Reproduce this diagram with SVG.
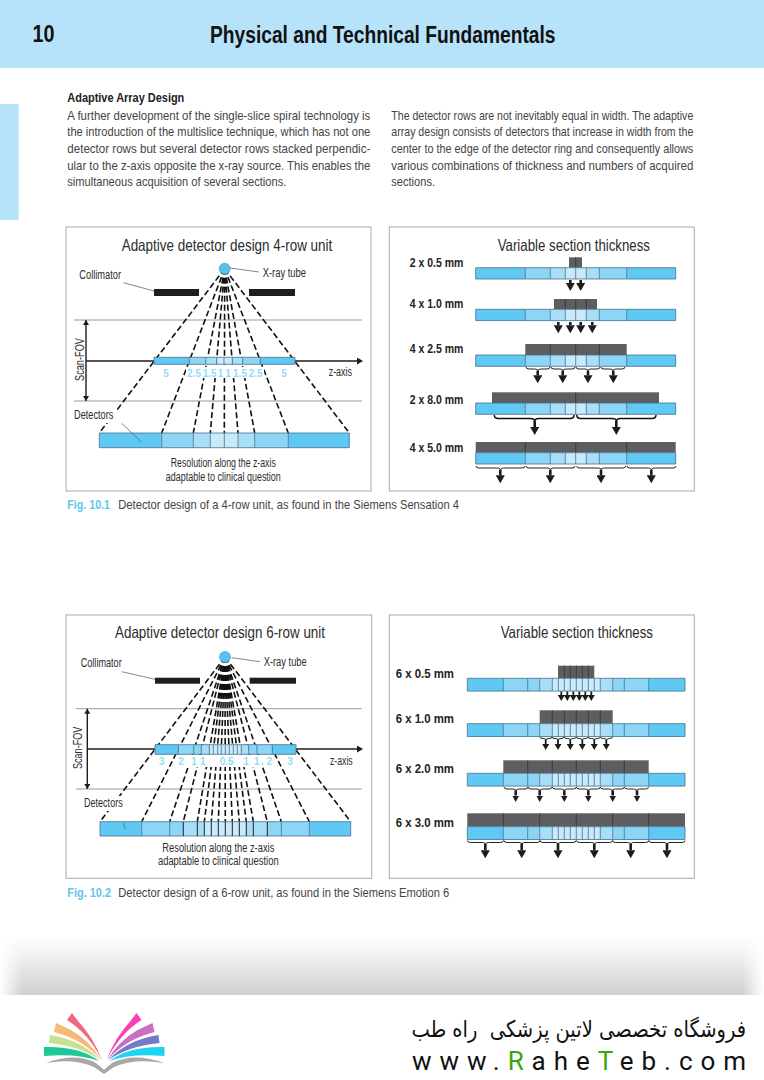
<svg xmlns="http://www.w3.org/2000/svg" width="764" height="1080" viewBox="0 0 764 1080">
<style>
text{font-family:"Liberation Sans",Arial,sans-serif;fill:#2c2c2c}
.body{font-size:12.4px;fill:#444}
.b{font-weight:bold}
.t{font-size:16.5px}
.l{font-size:12.5px}
.mm{font-size:12.5px;font-weight:bold;fill:#222}
.num{font-size:10px;font-weight:bold;fill:#93dcf5}
.cap{font-size:12.6px;fill:#444}
.fig{font-size:12.6px;font-weight:bold;fill:#62c6ea}
.frame{fill:#fff;stroke:#a9a9a9;stroke-width:1}
.gl{stroke:#9a9a9a;stroke-width:1;fill:none}
.ax{stroke:#1c1c1c;stroke-width:1.4;fill:none}
.ld{stroke:#666;stroke-width:.8;fill:none}
.da{stroke:#111;stroke-width:1.6;stroke-dasharray:6 3;fill:none}
.col{fill:#1e1e20}
.tube{fill:#55c3ee;stroke:#4a8aa8;stroke-width:.6}
.c1{fill:#5fc8f3}.c2{fill:#8dd5f6}.c3{fill:#a9def8}.c4{fill:#c8eafb}
.div{stroke:#46708a;stroke-width:.8;fill:none}
.dark{fill:#5e5e62}
.dd{stroke:#333;stroke-width:.8;fill:none}
.arr{stroke:#1c1c1c;stroke-width:2.6;fill:none}
.arrs{stroke:#1c1c1c;stroke-width:1.8;fill:none}
.br{stroke:#222;stroke-width:1;fill:none}
.br2{stroke:#111;stroke-width:1.5;fill:none}
.blue{fill:#b6e3f9}
</style>
<defs>
<marker id="h" markerUnits="userSpaceOnUse" markerWidth="9" markerHeight="9" refX="0" refY="4.5" orient="auto"><path d="M0 0L8 4.5L0 9Z" fill="#1c1c1c"/></marker>
<marker id="m" markerUnits="userSpaceOnUse" markerWidth="8" markerHeight="8" refX="0" refY="3.5" orient="auto"><path d="M0 0L6.5 3.5L0 7Z" fill="#1c1c1c"/></marker>
<marker id="hs" markerUnits="userSpaceOnUse" markerWidth="6" markerHeight="7" refX="0" refY="3.5" orient="auto"><path d="M0 0L6 3.5L0 7Z" fill="#1c1c1c"/></marker>
<marker id="dbl" markerUnits="userSpaceOnUse" markerWidth="6" markerHeight="6" refX="5" refY="3" orient="auto-start-reverse"><path d="M0 0L5 3L0 6Z" fill="#1c1c1c"/></marker>
<linearGradient id="fade" x1="0" y1="0" x2="0" y2="1"><stop offset="0" stop-color="#fff"/><stop offset=".3" stop-color="#f3f3f3"/><stop offset="1" stop-color="#d0d0d0"/></linearGradient>
<linearGradient id="fl" x1="0" y1="0" x2="1" y2="0"><stop offset="0" stop-color="#fff"/><stop offset="1" stop-color="#fff" stop-opacity="0"/></linearGradient>
<linearGradient id="fr" x1="1" y1="0" x2="0" y2="0"><stop offset="0" stop-color="#fff"/><stop offset="1" stop-color="#fff" stop-opacity="0"/></linearGradient>
<g id="s4">
<rect class="c1" x="475.7" width="49.6" height="11.3"/><rect class="c2" x="525.3" width="25" height="11.3"/><rect class="c3" x="550.3" width="15" height="11.3"/><rect class="c4" x="565.3" width="21" height="11.3"/><rect class="c3" x="586.3" width="13" height="11.3"/><rect class="c2" x="599.3" width="27.4" height="11.3"/><rect class="c1" x="626.7" width="49" height="11.3"/>
<path class="div" d="M475.7 0H675.7V11.3H475.7ZM525.3 0V11.3M550.3 0V11.3M565.3 0V11.3M575.7 0V11.3M586.3 0V11.3M599.3 0V11.3M626.7 0V11.3"/>
</g>
<g id="s6">
<rect class="c1" x="467.3" width="36" height="12.8"/><rect class="c2" x="503.3" width="36.4" height="12.8"/><rect class="c3" x="539.7" width="12.6" height="12.8"/><rect class="c4" x="552.3" width="48" height="12.8"/><rect class="c3" x="600.3" width="12.4" height="12.8"/><rect class="c2" x="612.7" width="36" height="12.8"/><rect class="c1" x="648.7" width="36.3" height="12.8"/>
<path class="div" d="M467.3 0H685V12.8H467.3ZM503.3 0V12.8M527.7 0V12.8M539.7 0V12.8M552.3 0V12.8M558.3 0V12.8M564.3 0V12.8M570.3 0V12.8M576.3 0V12.8M582.3 0V12.8M588.3 0V12.8M594.3 0V12.8M600.3 0V12.8M612.7 0V12.8M624.3 0V12.8M648.7 0V12.8"/>
</g>
</defs>
<rect width="764" height="1080" fill="#fff"/>

<g id="page-header">
<rect class="blue" width="764" height="68"/>
<text x="32.5" y="41.7" font-size="23" class="b" style="fill:#111" textLength="22" lengthAdjust="spacingAndGlyphs">10</text>
<text x="210" y="42.7" font-size="23.5" class="b" style="fill:#111" textLength="345.5" lengthAdjust="spacingAndGlyphs">Physical and Technical Fundamentals</text>
</g>
<rect id="side-tab" class="blue" x="0" y="104" width="18.7" height="116"/>

<g id="body-text">
<text class="body b" x="67.3" y="102.3" style="fill:#222" textLength="117" lengthAdjust="spacingAndGlyphs">Adaptive Array Design</text>
<text class="body" x="67.3" y="119.7" textLength="303" lengthAdjust="spacingAndGlyphs">A further development of the single-slice spiral technology is</text>
<text class="body" x="67.3" y="136.3" textLength="303" lengthAdjust="spacingAndGlyphs">the introduction of the multislice technique, which has not one</text>
<text class="body" x="67.3" y="153" textLength="303" lengthAdjust="spacingAndGlyphs">detector rows but several detector rows stacked perpendic-</text>
<text class="body" x="67.3" y="169.7" textLength="303" lengthAdjust="spacingAndGlyphs">ular to the z-axis opposite the x-ray source. This enables the</text>
<text class="body" x="67.3" y="186.3" textLength="219" lengthAdjust="spacingAndGlyphs">simultaneous acquisition of several sections.</text>
<text class="body" x="391.3" y="119.7" textLength="302" lengthAdjust="spacingAndGlyphs">The detector rows are not inevitably equal in width. The adaptive</text>
<text class="body" x="391.3" y="136.3" textLength="302" lengthAdjust="spacingAndGlyphs">array design consists of detectors that increase in width from the</text>
<text class="body" x="391.3" y="153" textLength="302" lengthAdjust="spacingAndGlyphs">center to the edge of the detector ring and consequently allows</text>
<text class="body" x="391.3" y="169.7" textLength="302" lengthAdjust="spacingAndGlyphs">various combinations of thickness and numbers of acquired</text>
<text class="body" x="391.3" y="186.3" textLength="43.7" lengthAdjust="spacingAndGlyphs">sections.</text>
</g>

<!-- Panel 1 -->
<rect id="panel-4row" class="frame" x="66" y="227" width="305" height="264"/>
<text class="t" x="121.7" y="250.7" textLength="210.6" lengthAdjust="spacingAndGlyphs">Adaptive detector design 4-row unit</text>
<g id="connectors-4row">
<path class="gl" d="M74 320H362M74 401H362"/>
<line class="ax" x1="86" y1="320" x2="86" y2="401" marker-start="url(#dbl)" marker-end="url(#dbl)"/>
<line class="ax" x1="86" y1="361" x2="357" y2="361" marker-end="url(#hs)"/>
<path class="ld" d="M123.3 282.7L154 291M230 268L259 272"/>
<path class="da" d="M224.7 268.7L99.3 433M224.7 268.7L161.7 433M224.7 268.7L193.3 433M224.7 268.7L210.3 433M224.7 268.7L224.3 433M224.7 268.7L238 433M224.7 268.7L254.7 433M224.7 268.7L288.3 433M224.7 268.7L349.3 433"/>
</g>
<g id="tube-4row"><circle class="tube" cx="224.7" cy="268.7" r="5.5"/><text class="l" x="262.7" y="277" textLength="43.3" lengthAdjust="spacingAndGlyphs">X-ray tube</text></g>
<g id="collimator-4row"><rect class="col" x="154" y="289" width="45" height="7"/><rect class="col" x="249" y="289" width="46" height="7"/><text class="l" x="79.3" y="279" textLength="41.7" lengthAdjust="spacingAndGlyphs">Collimator</text></g>
<g id="upper-strip-4row">
<rect x="186" y="367" width="78" height="11" fill="#fff"/>
<rect class="c1" x="154" y="357.3" width="35.3" height="7"/><rect class="c2" x="189.3" y="357.3" width="16.4" height="7"/><rect class="c3" x="205.7" y="357.3" width="11" height="7"/><rect class="c4" x="216.7" y="357.3" width="15.6" height="7"/><rect class="c3" x="232.3" y="357.3" width="10.4" height="7"/><rect class="c2" x="242.7" y="357.3" width="17.6" height="7"/><rect class="c1" x="260.3" y="357.3" width="34.7" height="7"/>
<path class="div" d="M154 357.3H295V364.3H154ZM189.3 357.3V364.3M205.7 357.3V364.3M216.7 357.3V364.3M224 357.3V364.3M232.3 357.3V364.3M242.7 357.3V364.3M260.3 357.3V364.3"/>
<text class="num" x="166" y="376.7" text-anchor="middle">5</text><text class="num" x="194" y="376.7" text-anchor="middle">2.5</text><text class="num" x="209.7" y="376.7" text-anchor="middle">1.5</text><text class="num" x="220.5" y="376.7" text-anchor="middle">1</text><text class="num" x="228" y="376.7" text-anchor="middle">1</text><text class="num" x="240" y="376.7" text-anchor="middle">1.5</text><text class="num" x="255.7" y="376.7" text-anchor="middle">2.5</text><text class="num" x="284" y="376.7" text-anchor="middle">5</text>
</g>
<text id="scan-fov-4row" class="l" transform="translate(84 381) rotate(-90)" textLength="43" lengthAdjust="spacingAndGlyphs">Scan-FOV</text>
<text id="zaxis-4row" class="l" x="328.7" y="376" textLength="23.3" lengthAdjust="spacingAndGlyphs">z-axis</text>
<g id="detectors-4row">
<rect x="72" y="408" width="45" height="15" fill="#fff"/>
<text class="l" x="74" y="419.3" textLength="39.3" lengthAdjust="spacingAndGlyphs">Detectors</text>
<rect class="c1" x="99.3" y="433" width="62.4" height="14.7"/><rect class="c2" x="161.7" y="433" width="31.6" height="14.7"/><rect class="c3" x="193.3" y="433" width="17" height="14.7"/><rect class="c4" x="210.3" y="433" width="27.7" height="14.7"/><rect class="c3" x="238" y="433" width="16.7" height="14.7"/><rect class="c2" x="254.7" y="433" width="33.6" height="14.7"/><rect class="c1" x="288.3" y="433" width="61" height="14.7"/>
<path class="div" d="M99.3 433H349.3V447.7H99.3ZM161.7 433V447.7M193.3 433V447.7M210.3 433V447.7M224.3 433V447.7M238 433V447.7M254.7 433V447.7M288.3 433V447.7"/>
<path class="ld" d="M121.7 423.3L141.7 442.3"/>
</g>
<text class="l" x="223.3" y="467.3" text-anchor="middle" textLength="105" lengthAdjust="spacingAndGlyphs">Resolution along the z-axis</text>
<text class="l" x="223.3" y="481" text-anchor="middle" textLength="115" lengthAdjust="spacingAndGlyphs">adaptable to clinical question</text>

<!-- Panel 2 -->
<rect id="panel-var4" class="frame" x="389.3" y="227" width="305" height="264"/>
<text class="t" x="497.7" y="250.7" textLength="152.3" lengthAdjust="spacingAndGlyphs">Variable section thickness</text>
<g id="row-2x05">
<text class="mm" x="409.7" y="267.3" textLength="53.7" lengthAdjust="spacingAndGlyphs">2 x 0.5 mm</text>
<rect class="dark" x="569" y="257.3" width="13" height="10.4"/><path class="dd" d="M575.7 257.3V267.7"/>
<use href="#s4" y="267.7"/>
</g>
<g id="row-4x10">
<text class="mm" x="409.7" y="308.3" textLength="53.7" lengthAdjust="spacingAndGlyphs">4 x 1.0 mm</text>
<rect class="dark" x="554" y="299" width="43" height="10.3"/><path class="dd" d="M565.3 299V309.3M575.7 299V309.3M586.3 299V309.3"/>
<use href="#s4" y="309.3"/>
</g>
<g id="row-4x25">
<text class="mm" x="409.7" y="353.3" textLength="53.7" lengthAdjust="spacingAndGlyphs">4 x 2.5 mm</text>
<rect class="dark" x="525.3" y="344" width="101.4" height="11"/><path class="dd" d="M550.3 344V355M575.7 344V355M599.3 344V355"/>
<use href="#s4" y="355"/>
</g>
<g id="row-2x80">
<text class="mm" x="409.7" y="403.7" textLength="53.7" lengthAdjust="spacingAndGlyphs">2 x 8.0 mm</text>
<rect class="dark" x="492" y="392.3" width="167" height="10.7"/><path class="dd" d="M575.7 392.3V403"/>
<use href="#s4" y="403"/>
</g>
<g id="row-4x50">
<text class="mm" x="409.7" y="452.3" textLength="53.7" lengthAdjust="spacingAndGlyphs">4 x 5.0 mm</text>
<rect class="dark" x="475.7" y="442" width="200" height="10.7"/><path class="dd" d="M525.3 442V452.7M575.7 442V452.7M626.7 442V452.7"/>
<use href="#s4" y="452.7"/>
</g>
<g id="connectors-var4">
<g class="arr">
<line x1="570.3" y1="280" x2="570.3" y2="283" marker-end="url(#h)"/><line x1="580.7" y1="280" x2="580.7" y2="283" marker-end="url(#h)"/>
<line x1="558.3" y1="322" x2="558.3" y2="325.3" marker-end="url(#h)"/><line x1="570.3" y1="322" x2="570.3" y2="325.3" marker-end="url(#h)"/><line x1="580.7" y1="322" x2="580.7" y2="325.3" marker-end="url(#h)"/><line x1="592.3" y1="322" x2="592.3" y2="325.3" marker-end="url(#h)"/>
<line x1="537.7" y1="371" x2="537.7" y2="375.3" marker-end="url(#h)"/><line x1="562.7" y1="371" x2="562.7" y2="375.3" marker-end="url(#h)"/><line x1="588" y1="371" x2="588" y2="375.3" marker-end="url(#h)"/><line x1="613.3" y1="371" x2="613.3" y2="375.3" marker-end="url(#h)"/>
<line x1="534.7" y1="421" x2="534.7" y2="427" marker-end="url(#h)"/><line x1="616.3" y1="421" x2="616.3" y2="427" marker-end="url(#h)"/>
<line x1="500.3" y1="470" x2="500.3" y2="475.3" marker-end="url(#h)"/><line x1="550.3" y1="470" x2="550.3" y2="475.3" marker-end="url(#h)"/><line x1="601" y1="470" x2="601" y2="475.3" marker-end="url(#h)"/><line x1="651.3" y1="470" x2="651.3" y2="475.3" marker-end="url(#h)"/>
</g>
<path class="br" d="M526 367q0 2 3 2h6q3 0 3 2q0-2 3-2h6q3 0 3-2M551 367q0 2 3 2h6q3 0 3 2q0-2 3-2h6q3 0 3-2M576 367q0 2 3 2h6q3 0 3 2q0-2 3-2h6q3 0 3-2M601 367q0 2 3 2h6q3 0 3 2q0-2 3-2h6q3 0 3-2"/>
<path class="br2" d="M494.3 415q0 3.5 4 3.5h32.4q4 0 4 3q0-3 4-3h31.4q4 0 4-3.5M576.7 415q0 3.5 4 3.5h31.7q4 0 4 3q0-3 4-3h31.6q4 0 4-3.5"/>
<path class="br" d="M476 466q0 2 3 2h18.5q3 0 3 2q0-2 3-2h18.5q3 0 3-2M526 466q0 2 3 2h18.5q3 0 3 2q0-2 3-2h18.5q3 0 3-2M576.7 466q0 2 3 2h18.5q3 0 3 2q0-2 3-2h18.5q3 0 3-2M627 466q0 2 3 2h18.5q3 0 3 2q0-2 3-2h18.5q3 0 3-2"/>
</g>
<g id="caption-1">
<text class="fig" x="67.3" y="509.3" textLength="42.7" lengthAdjust="spacingAndGlyphs">Fig. 10.1</text>
<text class="cap" x="118.3" y="509.3" textLength="340.7" lengthAdjust="spacingAndGlyphs">Detector design of a 4-row unit, as found in the Siemens Sensation 4</text>
</g>

<!-- Panel 3 -->
<rect id="panel-6row" class="frame" x="66" y="615" width="305.7" height="263.3"/>
<text class="t" x="115" y="638" textLength="210" lengthAdjust="spacingAndGlyphs">Adaptive detector design 6-row unit</text>
<g id="connectors-6row">
<path class="gl" d="M75.7 708.7H361.7M75.7 789H361.7"/>
<line class="ax" x1="87.3" y1="708.7" x2="87.3" y2="789" marker-start="url(#dbl)" marker-end="url(#dbl)"/>
<line class="ax" x1="87.3" y1="749" x2="357" y2="749" marker-end="url(#hs)"/>
<path class="ld" d="M121.7 671.7L155 679.3M231.7 657.7L260 661.7"/>
<path class="da" d="M225 657L100 821.7M225 657L141.7 821.7M225 657L169.7 821.7M225 657L183.3 821.7M225 657L197.3 821.7M225 657L204.3 821.7M225 657L211.3 821.7M225 657L218.3 821.7M225 657L225.3 821.7M225 657L232.3 821.7M225 657L239.3 821.7M225 657L246.3 821.7M225 657L253.3 821.7M225 657L267.3 821.7M225 657L281.3 821.7M225 657L309.3 821.7M225 657L350.7 821.7"/>
</g>
<g id="tube-6row"><circle class="tube" cx="225" cy="657" r="5.5"/><text class="l" x="263.7" y="666" textLength="43" lengthAdjust="spacingAndGlyphs">X-ray tube</text></g>
<g id="collimator-6row"><rect class="col" x="155" y="677.7" width="45" height="6"/><rect class="col" x="249.7" y="677.7" width="46.3" height="6"/><text class="l" x="80.7" y="667.3" textLength="41" lengthAdjust="spacingAndGlyphs">Collimator</text></g>
<g id="upper-strip-6row">
<rect x="188" y="755" width="74" height="12" fill="#fff"/>
<rect class="c1" x="155" y="744.7" width="23.3" height="9.6"/><rect class="c2" x="178.3" y="744.7" width="23" height="9.6"/><rect class="c3" x="201.3" y="744.7" width="8" height="9.6"/><rect class="c4" x="209.3" y="744.7" width="32" height="9.6"/><rect class="c3" x="241.3" y="744.7" width="7.4" height="9.6"/><rect class="c2" x="248.7" y="744.7" width="23.6" height="9.6"/><rect class="c1" x="272.3" y="744.7" width="23.7" height="9.6"/>
<path class="div" d="M155 744.7H296V754.3H155ZM178.3 744.7V754.3M193.7 744.7V754.3M201.3 744.7V754.3M209.3 744.7V754.3M213.3 744.7V754.3M217.7 744.7V754.3M221.3 744.7V754.3M225.3 744.7V754.3M229.3 744.7V754.3M233.3 744.7V754.3M237.3 744.7V754.3M241.3 744.7V754.3M248.7 744.7V754.3M257 744.7V754.3M272.3 744.7V754.3"/>
<text class="num" x="161.7" y="765.3" text-anchor="middle">3</text><text class="num" x="181" y="765.3" text-anchor="middle">2</text><text class="num" x="194" y="765.3" text-anchor="middle">1</text><text class="num" x="202.7" y="765.3" text-anchor="middle">1</text><text class="num" x="226.7" y="765.3" text-anchor="middle">0.5</text><text class="num" x="246" y="765.3" text-anchor="middle">1</text><text class="num" x="256.7" y="765.3" text-anchor="middle">1</text><text class="num" x="269.3" y="765.3" text-anchor="middle">2</text><text class="num" x="290" y="765.3" text-anchor="middle">3</text>
</g>
<text id="scan-fov-6row" class="l" transform="translate(82 769) rotate(-90)" textLength="42.3" lengthAdjust="spacingAndGlyphs">Scan-FOV</text>
<text id="zaxis-6row" class="l" x="330" y="765" textLength="22.7" lengthAdjust="spacingAndGlyphs">z-axis</text>
<g id="detectors-6row">
<rect x="82" y="796" width="45" height="15" fill="#fff"/>
<text class="l" x="84" y="807.3" textLength="38.7" lengthAdjust="spacingAndGlyphs">Detectors</text>
<rect class="c1" x="100" y="821.7" width="41.7" height="14.3"/><rect class="c2" x="141.7" y="821.7" width="41.6" height="14.3"/><rect class="c3" x="183.3" y="821.7" width="21" height="14.3"/><rect class="c4" x="204.3" y="821.7" width="42" height="14.3"/><rect class="c3" x="246.3" y="821.7" width="21" height="14.3"/><rect class="c2" x="267.3" y="821.7" width="42" height="14.3"/><rect class="c1" x="309.3" y="821.7" width="41.4" height="14.3"/>
<path class="div" d="M100 821.7H350.7V836H100ZM141.7 821.7V836M169.7 821.7V836M281.3 821.7V836M309.3 821.7V836"/>
<path stroke="#222" stroke-width="1" fill="none" d="M183.3 821.7V836M197.3 821.7V836M204.3 821.7V836M211.3 821.7V836M218.3 821.7V836M225.3 821.7V836M232.3 821.7V836M239.3 821.7V836M246.3 821.7V836M253.3 821.7V836M267.3 821.7V836"/>
<path class="ld" d="M123.5 823L125 829"/>
</g>
<text class="l" x="218.3" y="852.3" text-anchor="middle" textLength="112" lengthAdjust="spacingAndGlyphs">Resolution along the z-axis</text>
<text class="l" x="218.3" y="865" text-anchor="middle" textLength="120.7" lengthAdjust="spacingAndGlyphs">adaptable to clinical question</text>

<!-- Panel 4 -->
<rect id="panel-var6" class="frame" x="389.3" y="615" width="305" height="263.3"/>
<text class="t" x="500.7" y="638" textLength="152.3" lengthAdjust="spacingAndGlyphs">Variable section thickness</text>
<g id="row-6x05">
<text class="mm" x="395.7" y="678.3" textLength="58.3" lengthAdjust="spacingAndGlyphs">6 x 0.5 mm</text>
<rect class="dark" x="558" y="665.7" width="36.3" height="12.6"/><path class="dd" d="M564.3 665.7V678.3M570.3 665.7V678.3M576.3 665.7V678.3M582.3 665.7V678.3M588.3 665.7V678.3"/>
<use href="#s6" y="678.3"/>
</g>
<g id="row-6x10">
<text class="mm" x="395.7" y="723.3" textLength="58.3" lengthAdjust="spacingAndGlyphs">6 x 1.0 mm</text>
<rect class="dark" x="539.7" y="710.3" width="73" height="13.4"/><path class="dd" d="M552.3 710.3V723.7M564.3 710.3V723.7M576.3 710.3V723.7M588.3 710.3V723.7M600.3 710.3V723.7"/>
<use href="#s6" y="723.7"/>
</g>
<g id="row-6x20">
<text class="mm" x="395.7" y="773.3" textLength="58.3" lengthAdjust="spacingAndGlyphs">6 x 2.0 mm</text>
<rect class="dark" x="503.3" y="760.3" width="145.4" height="13"/><path class="dd" d="M527.7 760.3V773.3M552.3 760.3V773.3M576.3 760.3V773.3M600.3 760.3V773.3M624.3 760.3V773.3"/>
<use href="#s6" y="773.3"/>
</g>
<g id="row-6x30">
<text class="mm" x="395.7" y="826.7" textLength="58.3" lengthAdjust="spacingAndGlyphs">6 x 3.0 mm</text>
<rect class="dark" x="467.3" y="813.3" width="217.7" height="13.4"/><path class="dd" d="M503.3 813.3V826.7M539.7 813.3V826.7M576.3 813.3V826.7M612.7 813.3V826.7M648.7 813.3V826.7"/>
<use href="#s6" y="826.7"/>
</g>
<g id="connectors-var6">
<g class="arrs">
<line x1="561.3" y1="691.5" x2="561.3" y2="695" marker-end="url(#hs)"/><line x1="567.3" y1="691.5" x2="567.3" y2="695" marker-end="url(#hs)"/><line x1="573.3" y1="691.5" x2="573.3" y2="695" marker-end="url(#hs)"/><line x1="579.3" y1="691.5" x2="579.3" y2="695" marker-end="url(#hs)"/><line x1="585.3" y1="691.5" x2="585.3" y2="695" marker-end="url(#hs)"/><line x1="591.3" y1="691.5" x2="591.3" y2="695" marker-end="url(#hs)"/>
<line x1="545.7" y1="740" x2="545.7" y2="744" marker-end="url(#hs)"/><line x1="558" y1="740" x2="558" y2="744" marker-end="url(#hs)"/><line x1="570.3" y1="740" x2="570.3" y2="744" marker-end="url(#hs)"/><line x1="582.3" y1="740" x2="582.3" y2="744" marker-end="url(#hs)"/><line x1="594.3" y1="740" x2="594.3" y2="744" marker-end="url(#hs)"/><line x1="606.3" y1="740" x2="606.3" y2="744" marker-end="url(#hs)"/>
</g>
<g class="arr">
<line x1="515.7" y1="790.5" x2="515.7" y2="795.5" marker-end="url(#m)"/><line x1="539.7" y1="790.5" x2="539.7" y2="795.5" marker-end="url(#m)"/><line x1="564.3" y1="790.5" x2="564.3" y2="795.5" marker-end="url(#m)"/><line x1="588.3" y1="790.5" x2="588.3" y2="795.5" marker-end="url(#m)"/><line x1="612.7" y1="790.5" x2="612.7" y2="795.5" marker-end="url(#m)"/><line x1="637" y1="790.5" x2="637" y2="795.5" marker-end="url(#m)"/>
<line x1="485.3" y1="844" x2="485.3" y2="850.3" marker-end="url(#h)"/><line x1="521.7" y1="844" x2="521.7" y2="850.3" marker-end="url(#h)"/><line x1="558" y1="844" x2="558" y2="850.3" marker-end="url(#h)"/><line x1="594.3" y1="844" x2="594.3" y2="850.3" marker-end="url(#h)"/><line x1="630.7" y1="844" x2="630.7" y2="850.3" marker-end="url(#h)"/><line x1="667" y1="844" x2="667" y2="850.3" marker-end="url(#h)"/>
</g>
<path class="br" d="M540 737q0 1.5 3 1.5q3 0 3 1.5q0-1.5 3-1.5q3 0 3-1.5M552 737q0 1.5 3 1.5q3 0 3 1.5q0-1.5 3-1.5q3 0 3-1.5M564.3 737q0 1.5 3 1.5q3 0 3 1.5q0-1.5 3-1.5q3 0 3-1.5M576.3 737q0 1.5 3 1.5q3 0 3 1.5q0-1.5 3-1.5q3 0 3-1.5M588.3 737q0 1.5 3 1.5q3 0 3 1.5q0-1.5 3-1.5q3 0 3-1.5M600.5 737q0 1.5 3 1.5q3 0 3 1.5q0-1.5 3-1.5q3 0 3-1.5"/>
<path class="br" d="M504 787q0 2 3 2h6q3 0 3 2q0-2 3-2h6q3 0 3-2M528 787q0 2 3 2h6q3 0 3 2q0-2 3-2h6q3 0 3-2M552.3 787q0 2 3 2h6q3 0 3 2q0-2 3-2h6q3 0 3-2M576.3 787q0 2 3 2h6q3 0 3 2q0-2 3-2h6q3 0 3-2M600.3 787q0 2 3 2h6q3 0 3 2q0-2 3-2h6q3 0 3-2M624.5 787q0 2 3 2h6q3 0 3 2q0-2 3-2h6q3 0 3-2"/>
<path class="br" d="M467.5 840.5q0 2 3 2h12q3 0 3 2q0-2 3-2h12q3 0 3-2M504 840.5q0 2 3 2h12q3 0 3 2q0-2 3-2h12q3 0 3-2M540 840.5q0 2 3 2h12q3 0 3 2q0-2 3-2h12q3 0 3-2M576.5 840.5q0 2 3 2h12q3 0 3 2q0-2 3-2h12q3 0 3-2M612.7 840.5q0 2 3 2h12q3 0 3 2q0-2 3-2h12q3 0 3-2M649 840.5q0 2 3 2h12q3 0 3 2q0-2 3-2h12q3 0 3-2"/>
</g>
<g id="caption-2">
<text class="fig" x="67.3" y="896.7" textLength="43.7" lengthAdjust="spacingAndGlyphs">Fig. 10.2</text>
<text class="cap" x="118.3" y="896.7" textLength="331" lengthAdjust="spacingAndGlyphs">Detector design of a 6-row unit, as found in the Siemens Emotion 6</text>
</g>

<g id="page-footer">
<rect x="0" y="935" width="764" height="60" fill="url(#fade)"/>
<rect x="0" y="935" width="22" height="60" fill="url(#fl)"/>
<rect x="742" y="935" width="22" height="60" fill="url(#fr)"/>
</g>
<g id="logo">
<path fill="#f4657f" d="M72 1013L78 1021Q93 1037 102 1060Q88 1033 67 1020Z"/>
<path fill="#f8b878" d="M56 1023L71 1030Q90 1041 101 1060Q84 1040 54 1032Z"/>
<path fill="#c8e090" d="M50 1035Q82 1040 100 1060Q80 1046 49 1043Z"/>
<path fill="#20c898" d="M44 1047Q80 1046 99 1061Q78 1053 44 1056Z"/>
<path fill="#f83fb4" d="M136.5 1013L130.5 1021Q115.5 1037 106.5 1060Q120.5 1033 141.5 1020Z"/>
<path fill="#c86fc4" d="M152.5 1023L137.5 1030Q118.5 1041 107.5 1060Q124.5 1040 154.5 1032Z"/>
<path fill="#7479c9" d="M158.5 1035Q126.5 1040 108.5 1060Q128.5 1046 159.5 1043Z"/>
<path fill="#1fd4f0" d="M164.5 1047Q128.5 1046 109.5 1061Q130.5 1053 164.5 1056Z"/>
<path fill="#a8a8a8" d="M46 1063Q75 1052 96 1063Q101 1067 104 1070Q107 1067 112 1063Q134 1052 164 1063Q134 1058 114 1067L104 1074L94 1067Q74 1058 46 1063Z"/>
</g>
<g id="store-text">
<text transform="translate(746 1037) scale(.848 1)" direction="rtl" font-size="23" xml:space="preserve" style="font-family:'DejaVu Sans',sans-serif;fill:#111">فروشگاه تخصصی لاتین پزشکی  راه طب</text>
<text x="412" y="1069.5" font-size="26" style="font-family:Roboto,sans-serif;fill:#111" textLength="334" lengthAdjust="spacing">www.<tspan style="fill:#3aa510">R</tspan>ahe<tspan style="fill:#3aa510">T</tspan>eb.com</text>
</g>
</svg>
